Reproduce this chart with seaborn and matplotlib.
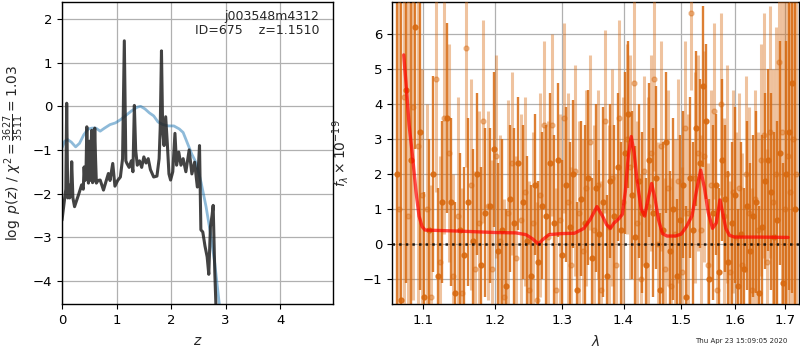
import numpy as np
import matplotlib
matplotlib.use("Agg")
import matplotlib.pyplot as plt
import matplotlib.ticker as mticker
import seaborn as sns

# ── left panel: log p(z) ────────────────────────────────────────
pz_z = [0.00, 0.04, 0.07, 0.086, 0.105, 0.12, 0.14, 0.16, 0.178, 0.20,
        0.23, 0.27, 0.31, 0.36, 0.39, 0.405, 0.42, 0.44, 0.455, 0.47,
        0.485, 0.50, 0.515, 0.53, 0.545, 0.56, 0.58, 0.60, 0.615, 0.63,
        0.66, 0.70, 0.76, 0.80, 0.85, 0.88, 0.93, 0.97, 1.02, 1.07,
        1.11, 1.142, 1.17, 1.19, 1.23, 1.27, 1.30, 1.326, 1.35, 1.38,
        1.42, 1.46, 1.50, 1.54, 1.58, 1.62, 1.68, 1.74, 1.78, 1.80,
        1.823, 1.845, 1.87, 1.90, 1.93, 1.96, 1.99, 2.03, 2.07, 2.10,
        2.14, 2.18, 2.22, 2.27, 2.33, 2.38, 2.43, 2.48, 2.52, 2.545,
        2.58, 2.62, 2.66, 2.69, 2.72, 2.75, 2.77, 2.80, 2.83]
pz_logp = [-2.61, -2.2, -1.9, 0.07, -2.1, -1.8, -2.1, -1.95, -1.27, -2.1,
           -2.3, -2.15, -2.0, -1.8, -1.9, -1.39, -1.7, -1.5, -0.47, -1.6,
           -1.76, -0.8, -1.7, -1.0, -0.55, -1.75, -1.7, -0.5, -1.2, -1.76,
           -1.7, -1.69, -1.92, -1.75, -1.54, -1.7, -1.31, -1.83, -1.7, -1.62,
           -1.2, 1.5, -1.25, -1.31, -1.4, -1.25, -1.5, 0.02, -1.0, -1.35,
           -1.25, -1.4, -1.16, -1.3, -1.2, -1.45, -1.62, -1.6, -1.2, -0.5,
           1.27, -0.55, -0.9, -0.24, -0.85, -1.55, -1.69, -1.5, -0.62, -1.35,
           -1.05, -1.35, -1.2, -1.5, -1.0, -1.55, -1.28, -1.85, -0.9, -2.83,
           -2.88, -3.2, -3.45, -3.85, -2.76, -2.5, -2.27, -3.8, -4.9]

prior_z = [0.0, 0.05, 0.1, 0.17, 0.25, 0.32, 0.4, 0.48, 0.55, 0.62,
           0.7, 0.78, 0.88, 0.98, 1.08, 1.18, 1.28, 1.38, 1.44, 1.52,
           1.6, 1.68, 1.76, 1.85, 1.95, 2.05, 2.15, 2.22, 2.3, 2.38,
           2.46, 2.55, 2.64, 2.72, 2.8, 2.88, 2.93]
prior_logp = [-0.95, -0.8, -0.76, -0.82, -0.93, -0.85, -0.65, -0.52, -0.5, -0.5,
              -0.57, -0.5, -0.42, -0.38, -0.3, -0.2, -0.1, -0.02, 0.0, -0.06,
              -0.15, -0.22, -0.36, -0.42, -0.45, -0.45, -0.52, -0.6, -0.85, -1.1,
              -1.3, -1.75, -2.3, -2.9, -3.6, -4.5, -5.0]

# ── right panel: spectrum ───────────────────────────────────────
dark_wave = [1.066, 1.072, 1.078, 1.084, 1.090, 1.096, 1.102, 1.108, 1.114, 1.120,
             1.126, 1.132, 1.138, 1.144, 1.150, 1.156, 1.162, 1.168, 1.174, 1.180,
             1.186, 1.192, 1.198, 1.204, 1.210, 1.216, 1.222, 1.228, 1.234, 1.240,
             1.246, 1.252, 1.258, 1.264, 1.270, 1.276, 1.282, 1.288, 1.294, 1.300,
             1.306, 1.312, 1.318, 1.324, 1.330, 1.336, 1.342, 1.348, 1.354, 1.360,
             1.366, 1.372, 1.378, 1.384, 1.390, 1.396, 1.402, 1.408, 1.414, 1.420,
             1.426, 1.432, 1.438, 1.444, 1.450, 1.456, 1.462, 1.468, 1.474, 1.480,
             1.486, 1.492, 1.498, 1.504, 1.510, 1.516, 1.522, 1.528, 1.534, 1.540,
             1.546, 1.552, 1.558, 1.564, 1.570, 1.576, 1.582, 1.588, 1.594, 1.600,
             1.606, 1.612, 1.618, 1.624, 1.630, 1.636, 1.642, 1.648, 1.654, 1.660,
             1.666, 1.672, 1.678, 1.684, 1.690, 1.696, 1.702, 1.708, 1.714, 1.720]
dark_flux = [2.0, -1.6, 4.4, 2.4, 6.2, 3.2, -1.5, 0.4, 2.0, -0.9,
             1.2, 3.6, 1.2, -1.4, 0.4, -0.3, 1.2, 0.1, 2.0, -0.6,
             0.9, 1.1, 2.7, -0.2, 0.4, -1.2, 1.3, 0.6, 2.3, 1.2,
             0.1, -0.9, 1.7, -0.5, 1.1, 0.8, 2.3, 0.6, 2.4, -0.3,
             1.7, 0.5, 2.0, -1.3, 1.3, 0.6, 1.9, -0.4, 1.6, 0.3,
             1.2, -0.9, 1.8, 0.8, 2.2, 0.4, 2.6, 3.7, 1.4, 0.2,
             1.8, 0.9, -0.6, 2.4, 0.9, 1.9, -1.3, 0.4, 2.9, -0.2,
             1.0, -0.9, 0.7, 1.7, -1.5, 1.9, 0.4, 3.3, 2.3, 4.5,
             3.5, -1.0, 0.9, 1.7, -0.8, 2.4, 1.3, -0.5, 0.6, 1.4,
             -1.2, 0.3, -0.7, 1.1, -0.2, 0.8, 1.2, -1.4, 0.5, 1.8,
             2.4, 1.5, 0.2, 0.7, 2.6, -1.1, 2.0, 3.2, 4.6, 1.0]
dark_err = [7.5, 8.5, 5.5, 6.0, 3.5, 4.5, 3.0, 2.6, 2.8, 2.5,
            2.3, 2.7, 2.4, 2.6, 2.2, 2.5, 2.4, 2.6, 2.3, 2.8,
            2.4, 2.2, 2.2, 2.5, 2.6, 2.2, 2.1, 2.7, 1.9, 2.2,
            2.4, 2.6, 2.0, 2.3, 2.1, 2.6, 2.0, 2.5, 2.2, 2.7,
            2.2, 2.4, 2.1, 2.5, 2.2, 2.8, 2.5, 2.3, 2.4, 2.1,
            2.7, 2.3, 2.2, 2.6, 2.1, 2.5, 2.3, 2.1, 2.4, 2.6,
            2.2, 2.3, 2.5, 2.2, 2.4, 2.6, 2.2, 2.5, 2.0, 2.3,
            2.6, 2.2, 2.4, 2.1, 2.6, 2.3, 2.5, 2.2, 2.4, 2.3,
            2.2, 2.3, 2.5, 2.0, 2.4, 2.3, 2.1, 2.6, 2.3, 2.5,
            2.2, 2.6, 2.3, 2.4, 2.5, 2.3, 2.6, 2.5, 2.6, 2.5,
            2.6, 2.8, 3.0, 2.8, 3.2, 3.4, 3.8, 4.5, 6.0, 8.0]

light_wave = [1.069, 1.075, 1.081, 1.087, 1.093, 1.099, 1.105, 1.111, 1.117, 1.123,
              1.129, 1.135, 1.141, 1.147, 1.153, 1.159, 1.165, 1.171, 1.177, 1.183,
              1.189, 1.195, 1.201, 1.207, 1.213, 1.219, 1.225, 1.231, 1.237, 1.243,
              1.249, 1.255, 1.261, 1.267, 1.273, 1.279, 1.285, 1.291, 1.297, 1.303,
              1.309, 1.315, 1.321, 1.327, 1.333, 1.339, 1.345, 1.351, 1.357, 1.363,
              1.369, 1.375, 1.381, 1.387, 1.393, 1.399, 1.405, 1.411, 1.417, 1.423,
              1.429, 1.435, 1.441, 1.447, 1.453, 1.459, 1.465, 1.471, 1.477, 1.483,
              1.489, 1.495, 1.501, 1.507, 1.513, 1.519, 1.525, 1.531, 1.537, 1.543,
              1.549, 1.555, 1.561, 1.567, 1.573, 1.579, 1.585, 1.591, 1.597, 1.603,
              1.609, 1.615, 1.621, 1.627, 1.633, 1.639, 1.645, 1.651, 1.657, 1.663,
              1.669, 1.675, 1.681, 1.687, 1.693, 1.699, 1.705, 1.711, 1.717, 1.723]
light_flux = [1.0, 4.2, 0.8, 3.9, 2.8, 1.4, 1.0, -1.5, 4.7, -0.5,
              3.6, 2.6, -0.9, 0.8, -1.4, 5.6, 1.7, -0.7, 0.6, 3.5,
              1.1, -0.7, 2.5, 0.1, -1.5, 0.9, 2.3, -0.4, 0.7, 1.5,
              -1.3, 0.6, -1.6, 1.4, 3.4, 0.2, 3.4, -1.3, 0.7, 3.6,
              1.2, -0.6, 2.1, 0.9, -0.2, 1.6, 2.9, 0.4, 1.7, -1.3,
              3.5, 0.5, 1.9, -0.6, 3.6, 1.2, 3.0, 2.2, 4.6, 0.6,
              -1.0, 2.1, 1.1, 2.6, 4.7, 0.0, 2.8, -0.7, 1.6, -1.2,
              0.3, 1.8, -0.8, 3.3, 0.9, 6.6, 1.9, 2.6, 0.4, 2.5,
              -0.6, 1.7, 3.8, -1.3, 4.0, 0.8, 2.0, -0.8, 1.5, 0.2,
              1.6, -0.6, 2.0, 0.9, -1.3, 1.3, 0.4, 2.4, 3.1, -0.5,
              3.2, 1.2, 2.0, 5.2, 3.2, 1.0, 2.5, 1.5, 3.0, 2.0]
light_err = [8.0, 7.0, 6.5, 5.5, 4.5, 3.6, 3.0, 3.2, 3.2, 3.0,
             3.3, 3.1, 2.9, 3.4, 3.0, 3.4, 3.0, 2.8, 3.2, 2.9,
             2.7, 3.1, 2.9, 3.0, 2.8, 3.2, 2.6, 2.9, 3.0, 2.7,
             3.1, 2.6, 2.8, 2.9, 2.4, 3.3, 2.6, 2.9, 3.0, 2.7,
             3.1, 2.8, 3.0, 2.6, 3.2, 2.8, 2.5, 3.0, 2.7, 3.1,
             2.6, 2.9, 3.1, 2.6, 2.8, 3.0, 2.7, 3.2, 2.4, 2.9,
             3.0, 2.7, 3.1, 2.8, 2.6, 2.9, 3.0, 2.6, 2.8, 3.1,
             2.7, 2.9, 3.0, 2.5, 2.8, 2.2, 3.0, 2.8, 2.7, 3.0,
             2.9, 2.7, 2.5, 3.0, 2.6, 2.8, 3.1, 2.6, 2.9, 3.0,
             2.7, 3.2, 2.8, 3.0, 2.9, 3.1, 2.8, 3.3, 3.5, 3.2,
             3.6, 3.8, 4.2, 4.5, 6.0, 7.5, 8.0, 8.0, 8.0, 8.0]

model_wave = [1.075, 1.078, 1.082, 1.0865, 1.091, 1.095, 1.099, 1.103, 1.15, 1.20,
              1.23, 1.245, 1.255, 1.264, 1.270, 1.280, 1.30, 1.32, 1.335, 1.345,
              1.356, 1.365, 1.372, 1.378, 1.384, 1.392, 1.398, 1.403, 1.408, 1.413,
              1.418, 1.423, 1.43, 1.436, 1.442, 1.448, 1.454, 1.46, 1.467, 1.475,
              1.49, 1.50, 1.51, 1.52, 1.528, 1.536, 1.543, 1.55, 1.558, 1.565,
              1.572, 1.577, 1.583, 1.59, 1.60, 1.65, 1.706]
model_flux = [5.4, 4.6, 3.4, 2.5, 1.5, 0.8, 0.5, 0.4, 0.37, 0.33,
              0.32, 0.27, 0.15, 0.0, 0.12, 0.27, 0.30, 0.31, 0.45, 0.7,
              1.07, 0.8, 0.55, 0.45, 0.6, 0.72, 0.85, 1.5, 2.5, 3.07,
              2.6, 1.8, 1.0, 0.8, 1.3, 1.73, 1.3, 0.7, 0.3, 0.23,
              0.23, 0.28, 0.5, 0.8, 1.5, 2.11, 1.6, 0.9, 0.45, 0.6,
              1.26, 0.9, 0.45, 0.25, 0.2, 0.2, 0.19]

wave_ticks = [1.1, 1.2, 1.3, 1.4, 1.5, 1.6, 1.7]

SPEC_COLOR = "#d8690f"

sns.set_theme(style="ticks")
plt.rcParams["font.family"] = ["DejaVu Sans"]
plt.rcParams["mathtext.fontset"] = "dejavusans"

fig = plt.figure(figsize=(8, 3.5), dpi=100)
ax1 = fig.add_axes([0.0775, 0.1314, 0.339, 0.863])
ax2 = fig.add_axes([0.49, 0.1314, 0.509, 0.863])

# ── left: redshift PDF ──
sns.lineplot(x=prior_z, y=prior_logp, ax=ax1, sort=False, estimator=None,
             color="#1f77b4", alpha=0.5, linewidth=2)
sns.lineplot(x=pz_z, y=pz_logp, ax=ax1, sort=False, estimator=None,
             color="#222222", alpha=0.85, linewidth=2.2)
ax1.set_xlim(0, 4.97)
ax1.set_ylim(-4.53, 2.39)
ax1.set_xticks([0, 1, 2, 3, 4])
ax1.set_yticks([-4, -3, -2, -1, 0, 1, 2])
ax1.set_xlabel(r"$z$", fontsize=10)
ax1.set_ylabel(r"$\log\ p(z)$ / $\chi^2=\frac{3627}{3511}=1.03$", fontsize=10)
ax1.yaxis.set_label_coords(-0.132, 0.5)
ax1.xaxis.set_label_coords(0.5, -0.1)
ax1.text(0.948, 0.975, "j003548m4312\nID=675    z=1.1510",
         transform=ax1.transAxes, ha="right", va="top", fontsize=9,
         linespacing=1.1)

# ── right: spectrum ──
ax2.errorbar(dark_wave, dark_flux, yerr=dark_err, fmt="o", color=SPEC_COLOR,
             alpha=0.85, markersize=3.5, elinewidth=1.7, capsize=0, zorder=2)
ax2.errorbar(light_wave, light_flux, yerr=light_err, fmt="o", color=SPEC_COLOR,
             alpha=0.4, markersize=3.5, elinewidth=2.2, capsize=0, zorder=3)
sns.lineplot(x=model_wave, y=model_flux, ax=ax2, sort=False, estimator=None,
             color="red", alpha=0.7, linewidth=2.4, zorder=5)
ax2.axhline(0, color="black", linestyle=":", linewidth=1.8, alpha=0.85, zorder=6)

ax2.set_xscale("log")
ax2.set_xlim(1.06, 1.729)
ax2.set_ylim(-1.71, 6.91)
ax2.xaxis.set_major_locator(mticker.FixedLocator(wave_ticks))
ax2.xaxis.set_major_formatter(mticker.FixedFormatter([f"{w:.1f}" for w in wave_ticks]))
ax2.xaxis.set_minor_locator(mticker.NullLocator())
ax2.set_yticks([-1, 0, 1, 2, 3, 4, 5, 6])
ax2.set_xlabel(r"$\lambda$", fontsize=10)
ax2.set_ylabel(r"$f_\lambda\times10^{-19}$", fontsize=10)
ax2.yaxis.set_label_coords(-0.1, 0.5)
ax2.xaxis.set_label_coords(0.5, -0.1)

for ax in (ax1, ax2):
    ax.grid(True, color="#b0b0b0", linewidth=0.9)
    ax.set_axisbelow(True)
    ax.tick_params(labelsize=9.5, length=3.5, width=0.8, colors="black")
    for sp in ax.spines.values():
        sp.set_color("black")
        sp.set_linewidth(1.0)

fig.text(0.984, 0.025, "Thu Apr 23 15:09:05 2020", ha="right", va="center",
         fontsize=5)

plt.savefig("out.png", dpi=100)
plt.close()
